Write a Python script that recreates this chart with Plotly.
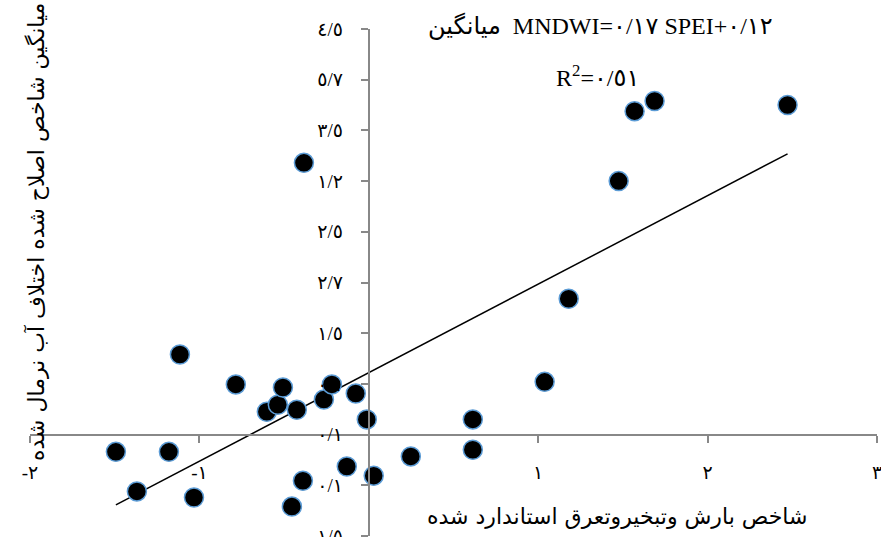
import numpy as np
import plotly.graph_objects as go

# SPEI (x) and mean normalized MNDWI (y)
spei = [-1.493, -1.369, -1.180, -1.115, -1.032, -0.785, -0.602, -0.537, -0.507, -0.454,
        -0.425, -0.389, -0.383, -0.265, -0.218, -0.130, -0.077, -0.012, 0.029, 0.248,
        0.614, 0.614, 1.038, 1.180, 1.475, 1.569, 1.687, 2.472]
mndwi = [-0.034, -0.112, -0.034, 0.158, -0.124, 0.099, 0.045, 0.059, 0.093, -0.142,
         0.049, -0.091, 0.536, 0.069, 0.099, -0.063, 0.081, 0.030, -0.081, -0.043,
         0.030, -0.030, 0.104, 0.268, 0.500, 0.638, 0.658, 0.650]

x_tickvals = [-2, -1, 1, 2, 3]
x_ticktext = ["-٢", "-١", "١", "٢", "٣"]
y_tickvals = [-0.2, -0.1, 0.0, 0.1, 0.2, 0.3, 0.4, 0.5, 0.6, 0.7, 0.8]
y_ticktext = ["-١/٥", "٠/١", "٠/١", "٠/١", "١/٥", "٢/٧", "٢/٥", "١/٢", "٣/٥", "٥/٧", "٤/٥"]

x_title = "شاخص بارش وتبخیروتعرق استاندارد شده"
y_title = "میانگین شاخص اصلاح شده اختلاف آب نرمال شده"
eq_text = "میانگین  MNDWI=٠/١٧ SPEI+٠/١٢"
r2_text = "R<sup>2</sup>=٠/٥١"

slope, intercept = np.polyfit(spei, mndwi, 1)
lx = np.array([min(spei), max(spei)])
ly = slope * lx + intercept

fig = go.Figure()
fig.add_trace(go.Scatter(x=lx, y=ly, mode="lines",
                         line=dict(color="black", width=1.5), hoverinfo="skip"))
fig.add_trace(go.Scatter(x=spei, y=mndwi, mode="markers",
                         marker=dict(size=19, color="black",
                                     line=dict(color="#5B9BD5", width=1.5))))

axis_gray = "#888888"
W, H = 881, 537
L, R, T, B = 30, 4, 29, 1
pw, ph = W - L - R, H - T - B

def px(x):
    return (x - L) / pw

def py(y):
    return (H - B - y) / ph

fig.update_layout(
    width=W, height=H, margin=dict(l=L, r=R, t=T, b=B, autoexpand=False),
    paper_bgcolor="white", plot_bgcolor="white", showlegend=False,
    font=dict(family="Liberation Serif, DejaVu Sans", color="black"),
    xaxis=dict(range=[-2, 3], showgrid=False, zeroline=False, showline=True,
               linecolor=axis_gray, linewidth=2, anchor="free", position=0.2,
               ticks="outside", ticklen=7, tickcolor=axis_gray, tickwidth=1.5,
               tickvals=x_tickvals, ticktext=x_ticktext, ticklabelstandoff=14,
               ticklabeloverflow="allow", automargin=False,
               tickfont=dict(size=19, family="Liberation Serif, DejaVu Sans")),
    yaxis=dict(range=[-0.2, 0.8], showgrid=False, zeroline=False, showline=True,
               linecolor=axis_gray, linewidth=2, anchor="free", position=0.4,
               ticks="outside", ticklen=7, tickcolor=axis_gray, tickwidth=1.5,
               tickvals=y_tickvals, ticktext=y_ticktext, ticklabelstandoff=14,
               ticklabeloverflow="allow", automargin=False,
               tickfont=dict(size=19, family="Liberation Serif, DejaVu Sans")),
    annotations=[
        dict(text=eq_text, xref="paper", yref="paper", x=px(600), y=py(26),
             showarrow=False, xanchor="center", yanchor="middle",
             font=dict(size=24, family="Liberation Serif, DejaVu Sans")),
        dict(text=r2_text, xref="paper", yref="paper", x=px(597), y=py(76),
             showarrow=False, xanchor="center", yanchor="middle",
             font=dict(size=24, family="Liberation Serif, DejaVu Sans")),
        dict(text=x_title, xref="paper", yref="paper", x=px(617), y=py(517),
             showarrow=False, xanchor="center", yanchor="middle",
             font=dict(size=22, family="DejaVu Sans")),
        dict(text=y_title, xref="paper", yref="paper", x=px(36), y=py(232),
             showarrow=False, xanchor="center", yanchor="middle", textangle=-90,
             font=dict(size=22, family="DejaVu Sans")),
    ],
)

fig.write_html("out.html")
